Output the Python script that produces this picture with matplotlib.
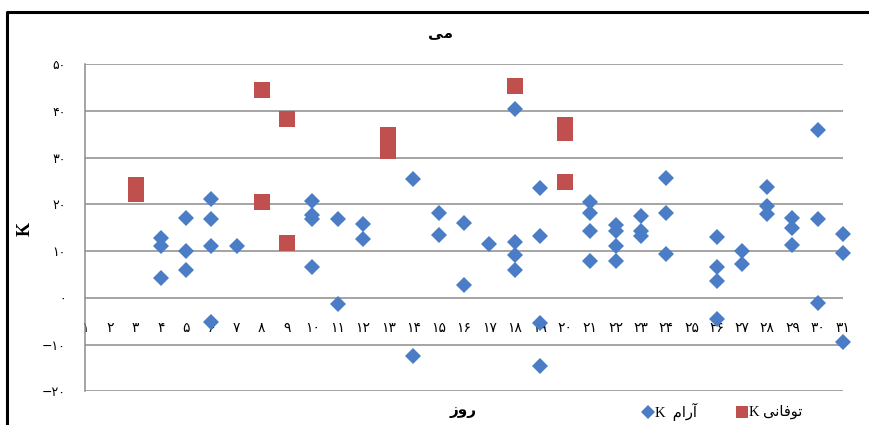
import matplotlib.pyplot as plt
from matplotlib.lines import Line2D

# روزهای ماه می و مقادیر K
days = list(range(1, 32))

calm_days = [4, 4, 4, 5, 5, 5, 6, 6, 6, 6, 7,
             10, 10, 10, 10, 11, 11, 12, 12, 14, 14, 15, 15, 16, 16, 17,
             18, 18, 18, 18, 19, 19, 19, 19,
             21, 21, 21, 21, 22, 22, 22, 22, 23, 23, 23, 24, 24, 24,
             26, 26, 26, 26, 27, 27, 28, 28, 28, 29, 29, 29,
             30, 30, 30, 31, 31, 31]
calm_vals = [12.7, 11.0, 4.3, 17.1, 10.0, 5.9, 21.2, 16.8, 11.0, -5.2, 11.0,
             20.6, 17.6, 16.8, 6.6, 16.8, -1.3, 15.7, 12.6, 25.5, -12.4, 18.2, 13.5, 15.9, 2.7, 11.6,
             40.3, 12.0, 9.1, 6.0, 23.4, 13.3, -5.3, -14.5,
             20.4, 18.1, 14.3, 7.8, 15.6, 14.2, 11.1, 7.9, 17.4, 14.3, 13.2, 25.7, 18.2, 9.3,
             13.1, 6.5, 3.6, -4.6, 10.0, 7.3, 23.6, 19.7, 17.9, 17.0, 15.0, 11.3,
             35.8, 16.8, -1.1, 13.6, 9.5, -9.5]

storm_days = [3, 3, 8, 8, 9, 9, 13, 13, 18, 20, 20, 20]
storm_vals = [24.2, 22.3, 44.4, 20.5, 38.3, 11.8, 34.8, 31.4, 45.4, 36.9, 35.2, 24.7]

y_ticks = [-20, -10, 0, 10, 20, 30, 40, 50]

# متن‌های فارسی به ترتیب نمایشی (چپ به راست) با شکل‌های نمایشی حروف
title_txt = "\uFEF0\uFEE3"                                   # می
xlabel_txt = "\uFEAF\uFEED\uFEAD"                            # روز
calm_txt = "K  \uFEE1\uFE8D\uFEAD\uFE81"                     # K آرام
storm_txt = "K \uFEF0\uFEE7\uFE8E\uFED3\uFEEE\uFE97"         # K توفانی

fa_digits = str.maketrans("0123456789", "۰۱۲۳۴۵۶۷۸۹")


def fa(n):
    s = str(abs(n)).translate(fa_digits)
    return "\u2212" + s if n < 0 else s


blue = "#4A7DC6"
red = "#C0504D"
grid_c = "#8C8C8C"

fig = plt.figure(figsize=(8.69, 4.25), dpi=100)
ax = fig.add_axes([85 / 869, 1 - 391.3 / 425, (843 - 85) / 869, (391.3 - 64) / 425])

ax.plot(calm_days, calm_vals, linestyle="none", marker="D", markersize=7.8,
        markeredgewidth=0, color=blue, clip_on=False, zorder=3)
ax.plot(storm_days, storm_vals, linestyle="none", marker="s", markersize=11,
        markeredgewidth=0, color=red, clip_on=False, zorder=3)

ax.set_xlim(1, 31)
ax.set_ylim(-20, 50)

ax.set_yticks(y_ticks)
ax.set_yticklabels([fa(v) for v in y_ticks], family=["DejaVu Sans"], fontsize=9)
ax.yaxis.grid(True, color=grid_c, linewidth=1.1)
ax.set_axisbelow(True)

ax.set_xticks(days)
ax.set_xticklabels([fa(d) for d in days], family=["DejaVu Sans"], fontsize=9, color="#222222")
ax.spines["bottom"].set_position(("data", 0))
ax.spines["bottom"].set_visible(False)
ax.spines["top"].set_visible(False)
ax.spines["right"].set_visible(False)
ax.spines["left"].set_color(grid_c)
ax.spines["left"].set_linewidth(1.1)
ax.tick_params(axis="x", length=0, pad=17)
ax.tick_params(axis="y", length=0, pad=14)

# عنوان، برچسب‌ها و راهنما
fig.text(440 / 869, 1 - 33 / 425, title_txt, ha="center", va="center",
         fontsize=11, fontweight="bold", family=["DejaVu Sans"])
fig.text(463 / 869, 1 - 410 / 425, xlabel_txt, ha="center", va="center",
         fontsize=11, fontweight="bold", family=["DejaVu Sans"])
fig.text(25 / 869, 1 - 229 / 425, "K", ha="center", va="center", rotation=90,
         fontsize=13, fontweight="bold", family=["Liberation Serif"])

fig.add_artist(Line2D([648 / 869], [1 - 412 / 425], marker="D", markersize=7,
                      markeredgewidth=0, color=blue, transform=fig.transFigure))
fig.text(655 / 869, 1 - 412 / 425, calm_txt, ha="left", va="center",
         fontsize=10.5, family=["Liberation Serif", "DejaVu Sans"])
fig.add_artist(Line2D([742 / 869], [1 - 412 / 425], marker="s", markersize=8,
                      markeredgewidth=0, color=red, transform=fig.transFigure))
fig.text(749 / 869, 1 - 412 / 425, storm_txt, ha="left", va="center",
         fontsize=10.5, family=["Liberation Serif", "DejaVu Sans"])

# قاب سیاه دور نمودار
fig.add_artist(Line2D([7 / 869, 7 / 869, 1], [0, 1 - 12 / 425, 1 - 12 / 425],
                      color="black", linewidth=2.2, transform=fig.transFigure))

fig.savefig("out.png", dpi=100)
